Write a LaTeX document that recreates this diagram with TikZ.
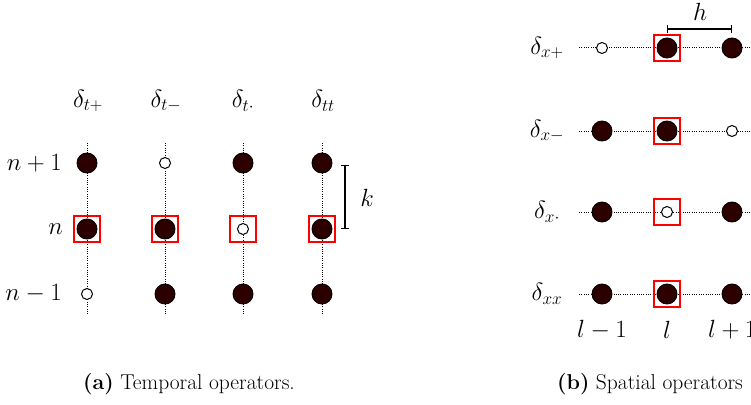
\documentclass[tikz,border=0pt]{standalone}
\usepackage{amsmath}
\begin{document}
\begin{tikzpicture}[x=1pt,y=-1pt,
  full/.style={circle,draw=black,fill={rgb,255:red,45;green,0;blue,0},line width=0.9pt,minimum size=20pt,inner sep=0pt},
  empty/.style={circle,draw=black,fill=white,line width=1pt,minimum size=11pt,inner sep=0pt},
  redbox/.style={draw=red,line width=1.1pt,minimum size=26pt,inner sep=0pt},
  grid/.style={line width=1pt,dash pattern=on 1pt off 1.3pt},
  lab/.style={font=\fontsize{25}{30}\selectfont,inner sep=0pt},
  captext/.style={font=\fontsize{21.5}{26}\selectfont,inner sep=0pt},
  bar/.style={line width=1.2pt,|-|}]
\useasboundingbox (0,0) rectangle (751,404);
% ---------- temporal ----------
\foreach \c/\x in {1/87,2/165,3/243,4/322}{
  \coordinate (ttop\c) at (\x,143);
  \coordinate (tbot\c) at (\x,314);
  \draw[grid] (ttop\c) -- (tbot\c);
}
\node[lab] (dtp) at (88,101) {$\delta_{t+}$};
\node[lab] (dtm) at (166,101) {$\delta_{t-}$};
\node[lab] (dtd) at (243,101) {$\delta_{t\cdot}$};
\node[lab] (dtt) at (323,101) {$\delta_{tt}$};
\node[lab,anchor=east] (rn1) at (62,163) {$n+1$};
\node[lab,anchor=east] (rn) at (63,229) {$n$};
\node[lab,anchor=east] (rnm) at (62,294) {$n-1$};
% column 1
\node[full] (a1) at (87,163) {};
\node[redbox] (b1) at (87,229) {};
\node[full] (c1) at (87,229) {};
\node[empty] (d1) at (87,294) {};
% column 2
\node[empty] (a2) at (165,163) {};
\node[redbox] (b2) at (165,229) {};
\node[full] (c2) at (165,229) {};
\node[full] (d2) at (165,294) {};
% column 3
\node[full] (a3) at (243,163) {};
\node[redbox] (b3) at (243,229) {};
\node[empty] (c3) at (243,229) {};
\node[full] (d3) at (243,294) {};
% column 4
\node[full] (a4) at (322,163) {};
\node[redbox] (b4) at (322,229) {};
\node[full] (c4) at (322,229) {};
\node[full] (d4) at (322,294) {};
% k bracket
\coordinate (kt) at (345,165);
\coordinate (kb) at (345,229);
\draw[bar] (kt) -- (kb);
\node[lab] (k) at (367,198) {$k$};
% ---------- spatial ----------
\foreach \r/\y in {1/48,2/131,3/212,4/294}{
  \coordinate (sl\r) at (579,\y);
  \coordinate (sr\r) at (755,\y);
  \draw[grid] (sl\r) -- (sr\r);
}
\node[lab] (dxp) at (547,48) {$\delta_{x+}$};
\node[lab] (dxm) at (547,131) {$\delta_{x-}$};
\node[lab] (dxd) at (547,212) {$\delta_{x\cdot}$};
\node[lab] (dxx) at (547,294) {$\delta_{xx}$};
% row 1
\node[empty] (p1) at (602,48) {};
\node[redbox] (q1) at (667,48) {};
\node[full] (r1) at (667,48) {};
\node[full] (s1) at (732,48) {};
% row 2
\node[full] (p2) at (602,131) {};
\node[redbox] (q2) at (667,131) {};
\node[full] (r2) at (667,131) {};
\node[empty] (s2) at (732,131) {};
% row 3
\node[full] (p3) at (602,212) {};
\node[redbox] (q3) at (667,212) {};
\node[empty] (r3) at (667,212) {};
\node[full] (s3) at (732,212) {};
% row 4
\node[full] (p4) at (602,294) {};
\node[redbox] (q4) at (667,294) {};
\node[full] (r4) at (667,294) {};
\node[full] (s4) at (732,294) {};
% h bracket
\coordinate (hl) at (667,29);
\coordinate (hr) at (732,29);
\draw[bar] (hl) -- (hr);
\node[lab] (h) at (700,12) {$h$};
% column labels
\node[lab] (lm) at (602,330) {$l-1$};
\node[lab] (l) at (667,330) {$l$};
\node[lab,anchor=west] (lp) at (708,330) {$l+1$};
% captions
\node[captext,anchor=west] (capa) at (83,384) {\textbf{(a)} Temporal operators.};
\node[captext,anchor=west] (capb) at (557,384) {\textbf{(b)} Spatial operators};
\end{tikzpicture}
\end{document}
